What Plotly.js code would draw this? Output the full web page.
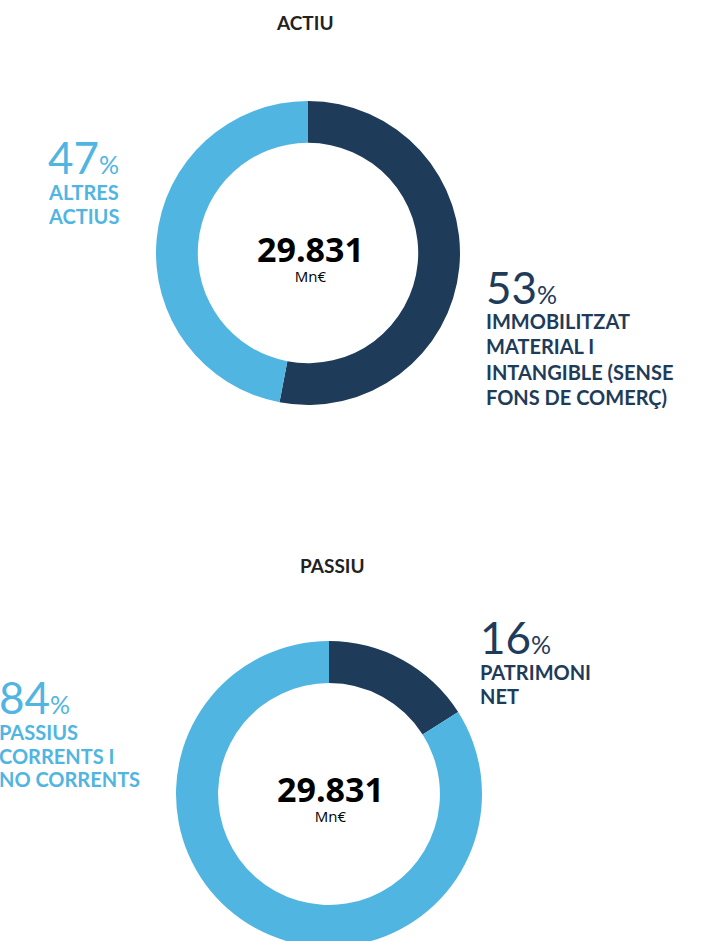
<!DOCTYPE html>
<html>
<head>
<meta charset="utf-8">
<script src="https://cdn.plot.ly/plotly-3.0.1.min.js"></script>
<style>
  html, body { margin: 0; padding: 0; overflow: hidden; background: #fff; }
  #chart { width: 724px; height: 960px; }
</style>
</head>
<body>
<div id="chart"></div>
<script>
// ---- data ----
const actiuTitle = "ACTIU";
const actiuLabels = ["IMMOBILITZAT<br>MATERIAL I<br>INTANGIBLE (SENSE<br>FONS DE COMERÇ)", "ALTRES<br>ACTIUS"];
const actiuValues = [53, 47];
const passiuTitle = "PASSIU";
const passiuLabels = ["PATRIMONI<br>NET", "PASSIUS<br>CORRENTS I<br>NO CORRENTS"];
const passiuValues = [16, 84];
const totalValue = "29.831";
const totalUnit = "Mn€";

// ---- style ----
const DARK = "#1e3c5a";
const LIGHT = "#51b5e1";
const W = 724, H = 960;
const px = (x) => x / W;
const py = (y) => (H - y) / H;

function pieDomain(cx, cy, r) {
  return { x: [px(cx - r), px(cx + r)], y: [py(cy + r), py(cy - r)] };
}

const traces = [
  {
    type: "pie", values: actiuValues, labels: actiuLabels,
    marker: { colors: [DARK, LIGHT], line: { width: 0 } },
    hole: 0.725, sort: false, direction: "clockwise", rotation: 0,
    textinfo: "none", hoverinfo: "none", showlegend: false,
    domain: pieDomain(308, 253, 152)
  },
  {
    type: "pie", values: passiuValues, labels: passiuLabels,
    marker: { colors: [DARK, LIGHT], line: { width: 0 } },
    hole: 0.725, sort: false, direction: "clockwise", rotation: 0,
    textinfo: "none", hoverinfo: "none", showlegend: false,
    domain: pieDomain(329, 794, 153)
  }
];

const pctFont = (c) => ({ family: "Lato", size: 44, color: c, weight: 400 });
const lblFont = (c) => ({ family: "Lato", size: 20, color: c, weight: 700 });
const pct = (v) => v + '<span style="font-size:25px">%</span>';

function ann(text, x, y, font, xanchor, h, align) {
  const a = { text, x: px(x), y: py(y), xref: "paper", yref: "paper",
    xanchor: xanchor || "left", yanchor: "middle",
    showarrow: false, align: align || "left", font };
  if (h) a.height = h;
  return a;
}
// one annotation per label line, so the line spacing matches the reference
function lines(label, x, y0, step, font) {
  return label.split("<br>").map((t, i) => ann(t, x, y0 + i * step, font, "left"));
}
function centre(x, y) {
  return ann('<span style="font-size:34px;font-weight:bold">' + totalValue + '</span><br>' + totalUnit,
    x, y, { family: "Open Sans", size: 15, color: "#000" }, "center", null, "center");
}

const titleFont = { family: "Lato", size: 19, color: "#222", weight: 700 };

const annotations = [
  ann(actiuTitle, 305, 22, titleFont, "center"),
  ann(passiuTitle, 332, 565, titleFont, "center"),
  // ACTIU
  ann(pct(actiuValues[1]), 46, 157, pctFont(LIGHT), "left", 34),
  ...lines(actiuLabels[1], 46, 192, 23.5, lblFont(LIGHT)),
  ann(pct(actiuValues[0]), 484, 287, pctFont(DARK), "left", 34),
  ...lines(actiuLabels[0], 484, 321, 25.3, lblFont(DARK)),
  centre(310, 256),
  // PASSIU
  ann(pct(passiuValues[0]), 478, 637, pctFont(DARK), "left", 34),
  ...lines(passiuLabels[0], 478, 672, 23.5, lblFont(DARK)),
  ann(pct(passiuValues[1]), -3, 697, pctFont(LIGHT), "left", 34),
  ...lines(passiuLabels[1], -3, 732, 23.5, lblFont(LIGHT)),
  centre(330, 796)
];

Plotly.newPlot("chart", traces, {
  width: W, height: H,
  margin: { l: 0, r: 0, t: 0, b: 0 },
  paper_bgcolor: "#fff",
  annotations
}, { staticPlot: true });
</script>
</body>
</html>
